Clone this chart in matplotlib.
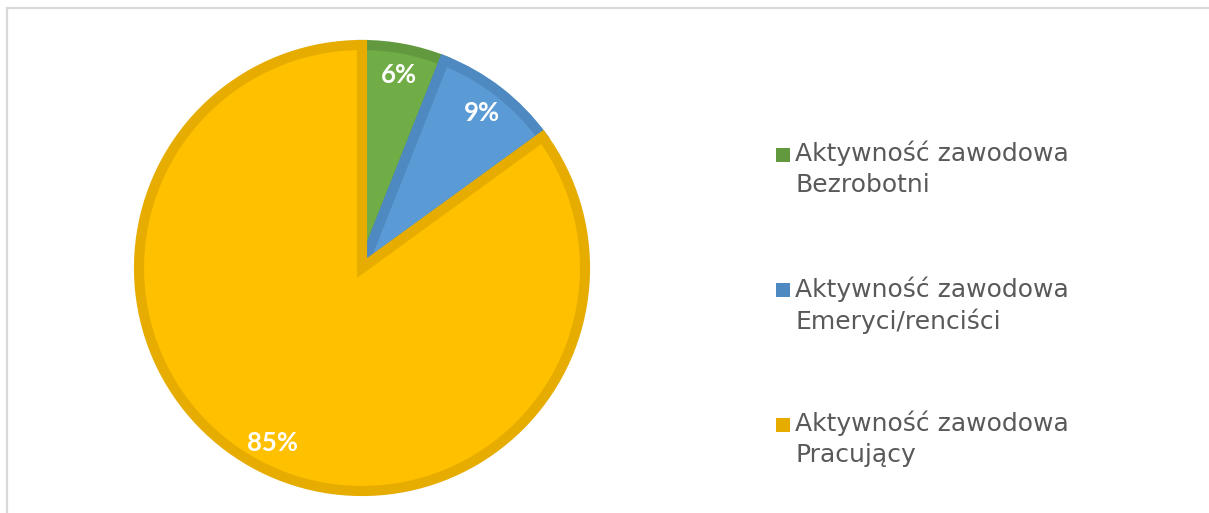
import matplotlib
matplotlib.use("Agg")
import matplotlib.pyplot as plt
from matplotlib.patches import Rectangle

categories = ["Aktywność zawodowa\nBezrobotni",
              "Aktywność zawodowa\nEmeryci/renciści",
              "Aktywność zawodowa\nPracujący"]
values = [6, 9, 85]
fill_colors = ["#70AD47", "#5B9BD5", "#FFC000"]
edge_colors = ["#62993E", "#4E89C1", "#E6AC00"]

W, H = 1209, 513
fig = plt.figure(figsize=(W / 100, H / 100), dpi=100)
ax = fig.add_axes([0, 0, 1, 1])

# chart-area border (top and left visible, cropped elsewhere)
ax.plot([7, 7, W + 5], [-5, H - 8, H - 8], color="#D9D9D9", lw=1.6, solid_joinstyle="miter")

wedges, texts, autotexts = ax.pie(
    values, colors=fill_colors, startangle=90, counterclock=False,
    center=(362, H - 268), radius=223, frame=True,
    autopct=lambda p: f"{p:.0f}%", pctdistance=0.88,
    wedgeprops=dict(linewidth=7.3, joinstyle="miter"),
    textprops=dict(color="white", fontsize=18.5, fontweight="bold", family="Lato"),
)
for w, ec in zip(wedges, edge_colors):
    w.set_edgecolor(ec)
ax.set_xlim(0, W)
ax.set_ylim(0, H)
ax.set_aspect("equal")
ax.axis("off")

# legend
ys = [155, 290, 425]
for lab, ec, y in zip(categories, edge_colors, ys):
    ax.add_patch(Rectangle((776, H - y - 7), 14, 14, facecolor=ec, edgecolor="none"))
    ax.text(795, H - y + 14, lab, fontsize=18, color="#595959", family="DejaVu Sans",
            va="top", ha="left", linespacing=1.35)

fig.savefig("out.png", dpi=100)
